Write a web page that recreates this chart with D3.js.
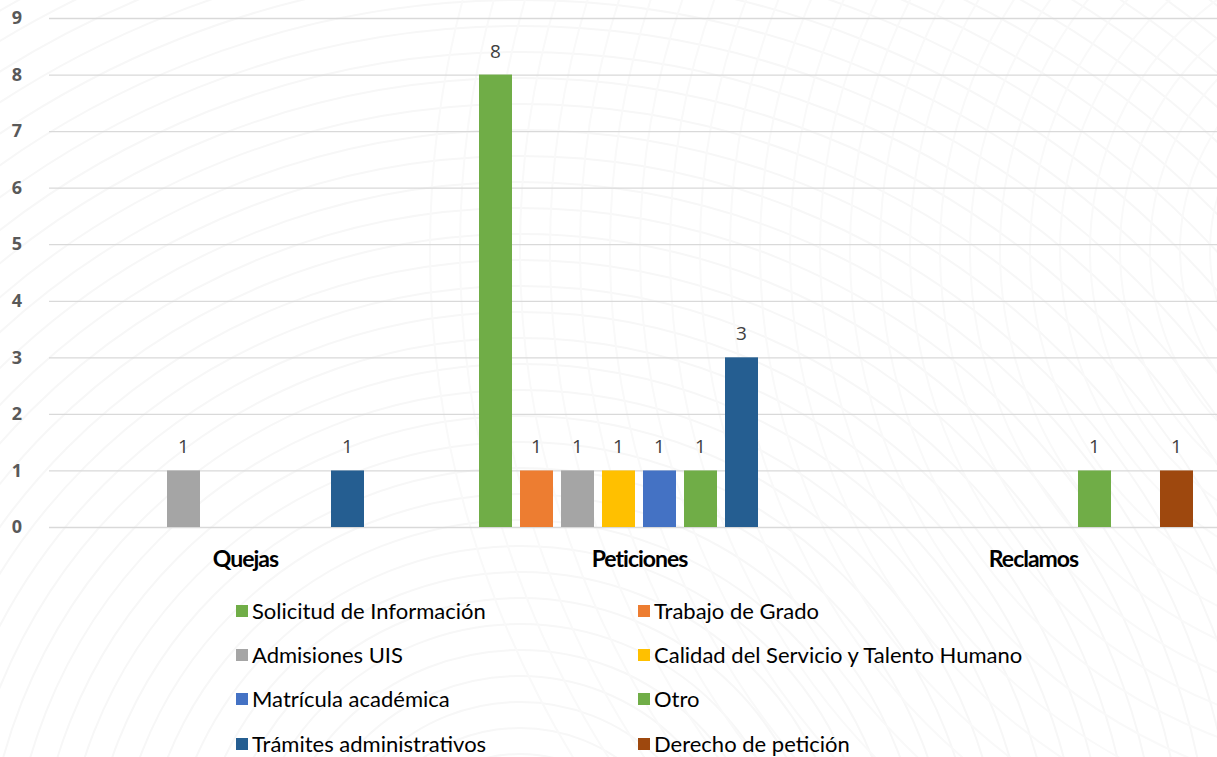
<!DOCTYPE html>
<html>
<head>
<meta charset="utf-8">
<script src="https://cdn.jsdelivr.net/npm/d3@7"></script>
<style>
  html, body { margin: 0; padding: 0; background: #ffffff; }
  svg { display: block; }
</style>
</head>
<body>
<svg id="chart" width="1217" height="757"></svg>
<script>
// Categories, series and counts
const categories = ["Quejas", "Peticiones", "Reclamos"];
const seriesNames = [
  "Solicitud de Información",
  "Trabajo de Grado",
  "Admisiones UIS",
  "Calidad del Servicio y Talento Humano",
  "Matrícula académica",
  "Otro",
  "Trámites administrativos",
  "Derecho de petición"
];
const seriesColors = ["#70AD47", "#ED7D31", "#A5A5A5", "#FFC000", "#4472C4", "#70AD47", "#255E91", "#9E480E"];
// values[series][category]; null = no bar
const solicitud   = [null, 8, null];
const trabajo     = [null, 1, null];
const admisiones  = [1, 1, null];
const calidad     = [null, 1, null];
const matricula   = [null, 1, null];
const otro        = [null, 1, 1];
const tramites    = [1, 3, null];
const derecho     = [null, null, 1];
const seriesValues = [solicitud, trabajo, admisiones, calidad, matricula, otro, tramites, derecho];
const yTicks = [0, 1, 2, 3, 4, 5, 6, 7, 8, 9];

const svg = d3.select("#chart");
const W = 1217, H = 757;

// faint decorative background curves
const bg = svg.append("g");
bg.append("rect").attr("width", W).attr("height", H).attr("fill", "#ffffff");
bg.selectAll("circle.r1").data(d3.range(0, 40)).join("circle")
  .attr("cx", 520).attr("cy", 900)
  .attr("r", d => 120 + d * 26)
  .attr("fill", "none").attr("stroke", "#f7f7f7").attr("stroke-width", 2);
bg.selectAll("circle.r2").data(d3.range(0, 30)).join("circle")
  .attr("cx", 1400).attr("cy", 250)
  .attr("r", d => 100 + d * 30)
  .attr("fill", "none").attr("stroke", "#f9f9f9").attr("stroke-width", 2);

const y = d3.scaleLinear().domain([0, 9]).range([527, 18]);
const x0 = d3.scaleBand().domain(categories).range([48.5, 1230.5]).padding(0);
const groupPad = 36.5;
const x1 = d3.scaleBand().domain(d3.range(seriesNames.length))
  .range([groupPad, groupPad + 320]).paddingInner(8 / 41).paddingOuter(0);

// gridlines
const grid = svg.append("g")
  .attr("transform", "translate(49,0)")
  .call(d3.axisLeft(y).tickValues(yTicks).tickSize(-(W - 49)).tickFormat(""));
grid.select(".domain").remove();
grid.selectAll(".tick line").attr("stroke", "#d9d9d9").attr("stroke-width", 1.3);

// y tick labels
const yAxis = svg.append("g")
  .attr("transform", "translate(26,0)")
  .call(d3.axisLeft(y).tickValues(yTicks).tickSize(0).tickPadding(0));
yAxis.select(".domain").remove();
yAxis.selectAll("text")
  .attr("x", -9).attr("text-anchor", "middle")
  .attr("font-family", "'Open Sans', sans-serif").attr("font-weight", "bold")
  .attr("font-size", "18px").attr("fill", "#595959");

// bars
const bars = [];
seriesValues.forEach((vals, s) => {
  vals.forEach((v, c) => {
    if (v !== null) bars.push({ s, c: categories[c], v });
  });
});
svg.append("g").selectAll("rect").data(bars).join("rect")
  .attr("x", d => x0(d.c) + x1(d.s))
  .attr("width", x1.bandwidth())
  .attr("y", d => y(d.v))
  .attr("height", d => y(0) - y(d.v))
  .attr("fill", d => seriesColors[d.s]);

// value labels
svg.append("g").selectAll("text").data(bars).join("text")
  .attr("x", d => x0(d.c) + x1(d.s) + x1.bandwidth() / 2)
  .attr("y", d => y(d.v) - 17)
  .attr("text-anchor", "middle")
  .attr("font-family", "'Open Sans', sans-serif")
  .attr("font-size", "19px").attr("fill", "#404040")
  .text(d => d.v);

// category labels
const xAxis = svg.append("g")
  .attr("transform", "translate(0,527)")
  .call(d3.axisBottom(x0).tickSize(0).tickPadding(0));
xAxis.select(".domain").remove();
xAxis.selectAll("text")
  .attr("y", 40).attr("dy", 0)
  .attr("font-family", "Lato, sans-serif").attr("font-weight", "bold")
  .attr("font-size", "23px").attr("letter-spacing", "-1px").attr("fill", "#000000");

// legend: two columns, row-major
const legend = svg.append("g");
const colX = [236, 638];
const rowY = [611, 655, 699, 744];
const items = legend.selectAll("g").data(seriesNames).join("g")
  .attr("transform", (d, i) => `translate(${colX[i % 2]},${rowY[Math.floor(i / 2)]})`);
items.append("rect").attr("x", 0).attr("y", -6).attr("width", 12).attr("height", 12)
  .attr("fill", (d, i) => seriesColors[i]);
items.append("text").attr("x", 16).attr("y", 8)
  .attr("font-family", "Lato, sans-serif").attr("font-size", "22px").attr("fill", "#000000")
  .text(d => d);
</script>
</body>
</html>
